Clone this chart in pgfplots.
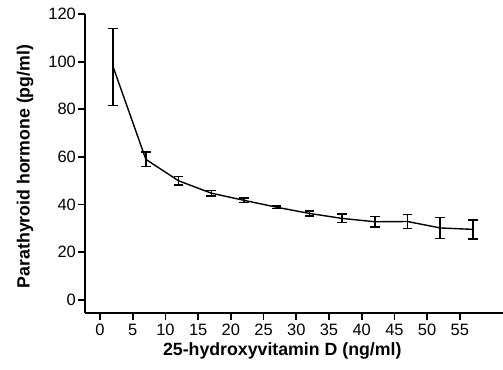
\documentclass[border=0pt]{standalone}
\usepackage{pgfplots}
\pgfplotsset{compat=1.18}
\usepackage{fontspec}
\setmainfont{Liberation Sans}
\begin{document}
\begin{tikzpicture}
\begin{axis}[
  scale only axis,
  width=418bp, height=299bp,
  xmin=-2.3, xmax=61.6,
  ymin=-5.5, ymax=120,
  axis lines=left,
  axis line style={line width=2.2bp, -},
  xtick={0,5,...,55},
  ytick={0,20,...,120},
  tick style={line width=1.8bp, black},
  tick align=outside,
  major tick length=7bp,
  tick label style={font=\fontsize{16.5}{19}\selectfont},
  xticklabel style={inner sep=4bp, font=\fontsize{16.5}{19}\selectfont},
  yticklabel style={inner sep=2bp, font=\fontsize{16.5}{19}\selectfont},
  /pgf/number format/assume math mode=true,
  xlabel={\bfseries 25-hydroxyvitamin D (ng/ml)},
  ylabel={\bfseries Parathyroid hormone (pg/ml)},
  label style={font=\fontsize{17.8}{20}\selectfont},
  xlabel style={at={([yshift=-38bp]axis description cs:0.472,0)}, anchor=center},
  ylabel style={at={([xshift=-60bp]axis description cs:0,0.49)}, anchor=center},
  clip=false,
]
\addplot+[black, line width=1.4bp, mark=none,
  error bars/.cd, y dir=both, y explicit,
  error bar style={line width=1.5bp, black},
  error mark options={rotate=90, mark size=4.8bp, line width=1.5bp, black}]
  coordinates {
  (2,97.8) +- (0,16.2)
  (7,59.0) +- (0,3.0)
  (12,50.0) +- (0,1.7)
  (17,44.8) +- (0,1.2)
  (22,41.8) +- (0,1.0)
  (27,38.9) +- (0,0.6)
  (32,36.3) +- (0,1.1)
  (37,34.2) +- (0,1.8)
  (42,32.8) +- (0,2.2)
  (47,32.9) +- (0,3.0)
  (52,30.2) +- (0,4.4)
  (57,29.6) +- (0,4.0)
  };
\end{axis}
\pgfresetboundingbox
\path (-85bp,-57bp) rectangle (418bp,313bp);
\end{tikzpicture}
\end{document}
